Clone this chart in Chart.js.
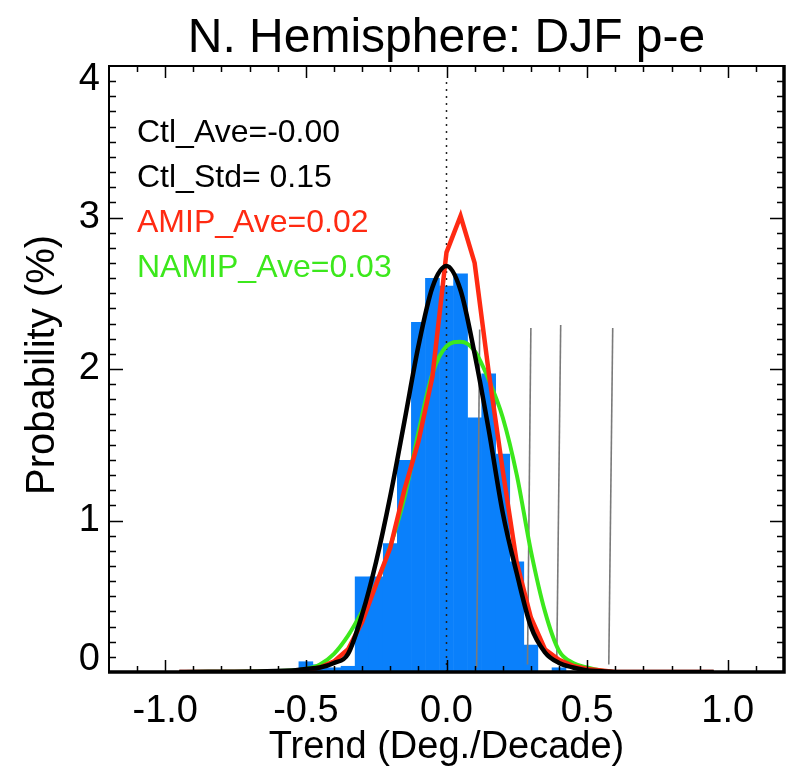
<!DOCTYPE html>
<html>
<head>
<meta charset="utf-8">
<script src="https://cdn.jsdelivr.net/npm/chart.js@4.4.0/dist/chart.umd.min.js"></script>
<style>
  html, body { margin: 0; padding: 0; background: #fff; }
  canvas { display: block; }
</style>
</head>
<body>
<canvas id="chart" width="792" height="769"></canvas>
<script>
const titleText = "N. Hemisphere: DJF p-e";
const xTitle = "Trend (Deg./Decade)";
const yTitle = "Probability (%)";

// control run histogram, 0.05 wide bins
const binCenters = [-0.5, -0.45, -0.4, -0.35, -0.3, -0.25, -0.2, -0.15, -0.1, -0.05, 0, 0.05, 0.1, 0.15, 0.2, 0.25, 0.3, 0.35, 0.4];
const ctlHist = [0.07, 0.05, 0.03, 0.04, 0.63, 0.63, 0.85, 1.40, 2.31, 2.60, 2.55, 2.63, 1.68, 1.97, 1.44, 0.73, 0.18, 0, 0.03];

// fitted curves
const curveX = [-0.95, -0.55, -0.5, -0.45, -0.4, -0.35, -0.3, -0.25, -0.2, -0.15, -0.1, -0.05, 0, 0.05, 0.1, 0.15, 0.2, 0.25, 0.3, 0.35, 0.4, 0.45, 0.5, 0.55, 0.6, 0.95];
const ctlCurve = [0, 0.01, 0.02, 0.03, 0.06, 0.12, 0.38, 0.73, 1.16, 1.65, 2.15, 2.54, 2.68, 2.52, 2.10, 1.60, 1.05, 0.65, 0.30, 0.13, 0.06, 0.03, 0.01, 0.005, 0, 0];
const amipCurve = [0, 0, 0.01, 0.03, 0.07, 0.15, 0.33, 0.58, 0.82, 1.20, 1.52, 1.95, 2.77, 3.01, 2.70, 1.98, 1.33, 0.72, 0.36, 0.15, 0.08, 0.04, 0.02, 0.01, 0, 0];
const namipCurve = [0, 0.01, 0.02, 0.05, 0.12, 0.24, 0.40, 0.58, 0.83, 1.15, 1.58, 1.97, 2.15, 2.18, 2.12, 1.93, 1.68, 1.30, 0.80, 0.40, 0.14, 0.06, 0.03, 0.01, 0, 0];

// thin grey marker lines
const markTopX = [0.118, 0.300, 0.406, 0.591];
const markBotX = [0.107, 0.288, 0.392, 0.577];
const markTopY = [2.26, 2.27, 2.29, 2.27];
const markBotY = [0.03, 0.05, 0.07, 0.05];

const zeroLineY = [0, 3.92];

const xTickValues = [-1, -0.5, 0, 0.5, 1];
const xTickLabels = ["-1.0", "-0.5", "0.0", "0.5", "1.0"];
const yTickValues = [0, 1, 2, 3, 4];
const yTickLabels = ["0", "1", "2", "3", "4"];

const noteLines = ["Ctl_Ave=-0.00", "Ctl_Std= 0.15", "AMIP_Ave=0.02", "NAMIP_Ave=0.03"];
const noteColors = ["#000000", "#000000", "#ff2a12", "#3ce81c"];

const FONT = '"Liberation Sans", Arial, Helvetica, sans-serif';

function pts(xs, ys) {
  return xs.map((x, i) => ({ x: x, y: ys[i] }));
}

const markSets = markTopX.map((tx, i) => ({
  type: "line",
  data: [{ x: markBotX[i], y: markBotY[i] }, { x: tx, y: markTopY[i] }],
  borderColor: "#7a7a7a",
  borderWidth: 1.6,
  pointRadius: 0,
  order: 5
}));

const frame = {
  id: "frame",
  beforeDraw(chart) {
    const ctx = chart.ctx;
    ctx.save();
    ctx.fillStyle = "#fff";
    ctx.fillRect(0, 0, chart.width, chart.height);
    ctx.restore();
  },
  afterDatasetsDraw(chart) {
    const { ctx, chartArea: a, scales: { x, y } } = chart;
    ctx.save();
    ctx.strokeStyle = "#000";
    ctx.lineWidth = 1.5;
    ctx.beginPath();
    // x ticks, top and bottom, every 0.1
    for (let i = -11; i <= 11; i++) {
      const px = Math.round(x.getPixelForValue(i / 10)) + 0.5;
      const len = i % 5 === 0 ? 12 : 6;
      ctx.moveTo(px, a.bottom); ctx.lineTo(px, a.bottom - len);
      ctx.moveTo(px, a.top); ctx.lineTo(px, a.top + len);
    }
    // y ticks, left and right, every 0.1
    for (let i = 1; i < 40; i++) {
      const py = Math.round(y.getPixelForValue(i / 10)) + 0.5;
      const len = i % 10 === 0 ? 14 : 7;
      ctx.moveTo(a.left, py); ctx.lineTo(a.left + len, py);
      ctx.moveTo(a.right, py); ctx.lineTo(a.right - len, py);
    }
    ctx.stroke();

    // box
    ctx.lineWidth = 2;
    ctx.beginPath();
    ctx.moveTo(a.left, a.bottom); ctx.lineTo(a.left, a.top); ctx.lineTo(a.right, a.top);
    ctx.stroke();
    ctx.lineWidth = 3.5;
    ctx.beginPath();
    ctx.moveTo(a.left - 1, a.bottom); ctx.lineTo(a.right, a.bottom); ctx.lineTo(a.right, a.top - 1);
    ctx.stroke();

    // tick labels
    ctx.fillStyle = "#000";
    ctx.font = "38px " + FONT;
    ctx.textAlign = "center";
    ctx.textBaseline = "alphabetic";
    xTickValues.forEach((v, i) => {
      ctx.fillText(xTickLabels[i], x.getPixelForValue(v), a.bottom + 50);
    });
    ctx.textAlign = "right";
    ctx.textBaseline = "middle";
    yTickValues.forEach((v, i) => {
      let py = y.getPixelForValue(v);
      py = Math.min(Math.max(py, a.top + 14), a.bottom - 12);
      ctx.fillText(yTickLabels[i], a.left - 9, py);
    });

    // axis titles
    const cx = (a.left + a.right) / 2;
    ctx.textAlign = "center";
    ctx.textBaseline = "alphabetic";
    ctx.font = "38px " + FONT;
    ctx.fillText(xTitle, cx, a.bottom + 86);
    ctx.save();
    ctx.translate(54, (a.top + a.bottom) / 2 - 4);
    ctx.rotate(-Math.PI / 2);
    ctx.font = "40px " + FONT;
    ctx.fillText(yTitle, 0, 0);
    ctx.restore();

    // title
    ctx.font = "48px " + FONT;
    ctx.fillText(titleText, cx, 52);

    // statistics
    ctx.textAlign = "left";
    ctx.font = "32px " + FONT;
    noteLines.forEach((t, i) => {
      ctx.fillStyle = noteColors[i];
      ctx.fillText(t, a.left + 28, a.top + 76 + i * 45);
    });
    ctx.restore();
  }
};

new Chart(document.getElementById("chart").getContext("2d"), {
  type: "bar",
  data: {
    datasets: [
      {
        type: "line",
        data: pts(curveX, ctlCurve),
        borderColor: "#000000",
        borderWidth: 4.5,
        pointRadius: 0,
        cubicInterpolationMode: "monotone",
        order: 1
      },
      {
        type: "line",
        data: pts(curveX, amipCurve),
        borderColor: "#ff2a12",
        borderWidth: 4.5,
        pointRadius: 0,
        tension: 0,
        order: 2
      },
      {
        type: "line",
        data: pts(curveX, namipCurve),
        borderColor: "#3ce81c",
        borderWidth: 4,
        pointRadius: 0,
        cubicInterpolationMode: "monotone",
        order: 3
      },
      {
        type: "line",
        data: zeroLineY.map(v => ({ x: 0, y: v })),
        borderColor: "#222",
        borderWidth: 1.5,
        borderDash: [2, 5],
        pointRadius: 0,
        order: 4
      },
      ...markSets,
      {
        type: "bar",
        data: pts(binCenters, ctlHist),
        backgroundColor: "#0a80fb",
        borderWidth: 0,
        barPercentage: 1.04,
        categoryPercentage: 1,
        order: 6
      }
    ]
  },
  options: {
    responsive: false,
    animation: false,
    devicePixelRatio: 1,
    layout: { padding: { left: 109, right: 8, top: 66, bottom: 97 } },
    plugins: { legend: { display: false }, tooltip: { enabled: false }, title: { display: false } },
    scales: {
      x: { type: "linear", min: -1.2, max: 1.2, offset: false, display: false },
      y: { type: "linear", min: 0, max: 4, display: false }
    }
  },
  plugins: [frame]
});
</script>
</body>
</html>
